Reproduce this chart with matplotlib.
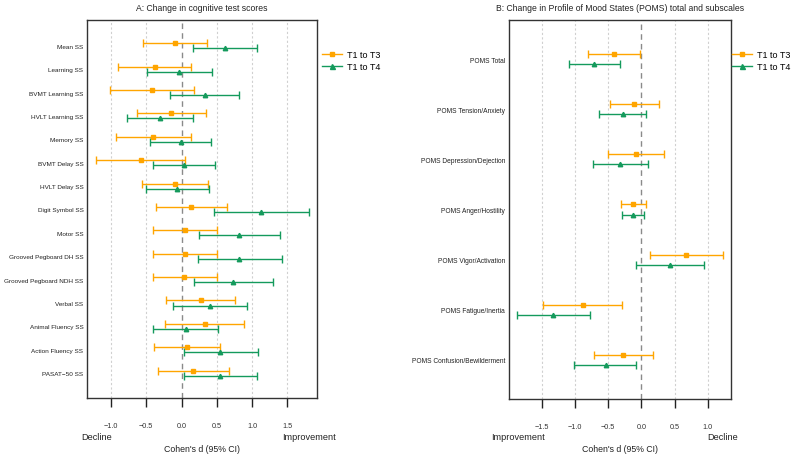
import matplotlib
matplotlib.use("Agg")
import matplotlib.pyplot as plt
from matplotlib.lines import Line2D
import numpy as np

plt.rcParams['font.family'] = ['Liberation Sans', 'DejaVu Sans']

# ---------------- Data: Panel A ----------------
cog_labels = ["Mean SS", "Learning SS", "BVMT Learning SS", "HVLT Learning SS", "Memory SS",
              "BVMT Delay SS", "HVLT Delay SS", "Digit Symbol SS", "Motor SS",
              "Grooved Pegboard DH SS", "Grooved Pegboard NDH SS", "Verbal SS",
              "Animal Fluency SS", "Action Fluency SS", "PASAT\u221250 SS"]
cog_t3_est = [-0.09, -0.38, -0.42, -0.15, -0.40, -0.58, -0.09, 0.14, 0.05, 0.05, 0.04, 0.27, 0.33, 0.08, 0.165]
cog_t3_lo = [-0.54, -0.90, -1.02, -0.63, -0.93, -1.21, -0.56, -0.36, -0.40, -0.40, -0.41, -0.22, -0.23, -0.39, -0.34]
cog_t3_hi = [0.36, 0.14, 0.17, 0.34, 0.13, 0.05, 0.37, 0.65, 0.50, 0.505, 0.50, 0.76, 0.89, 0.55, 0.675]
cog_t4_est = [0.62, -0.03, 0.33, -0.31, -0.01, 0.03, -0.06, 1.13, 0.82, 0.82, 0.73, 0.41, 0.06, 0.55, 0.54]
cog_t4_lo = [0.165, -0.49, -0.16, -0.77, -0.45, -0.41, -0.505, 0.46, 0.25, 0.236, 0.175, -0.12, -0.40, 0.03, 0.03]
cog_t4_hi = [1.07, 0.43, 0.82, 0.165, 0.42, 0.47, 0.39, 1.80, 1.39, 1.42, 1.29, 0.93, 0.52, 1.08, 1.07]
cog_ticks = [-1.0, -0.5, 0.0, 0.5, 1.0, 1.5]

# ---------------- Data: Panel B ----------------
poms_labels = ["POMS Total", "POMS Tension/Anxiety", "POMS Depression/Dejection",
               "POMS Anger/Hostility", "POMS Vigor/Activation", "POMS Fatigue/Inertia",
               "POMS Confusion/Bewilderment"]
poms_t3_est = [-0.42, -0.11, -0.085, -0.12, 0.67, -0.88, -0.27]
poms_t3_lo = [-0.81, -0.48, -0.51, -0.31, 0.125, -1.48, -0.71]
poms_t3_hi = [-0.02, 0.26, 0.34, 0.07, 1.225, -0.29, 0.18]
poms_t4_est = [-0.71, -0.28, -0.32, -0.13, 0.43, -1.33, -0.54]
poms_t4_lo = [-1.09, -0.64, -0.73, -0.30, -0.075, -1.87, -1.01]
poms_t4_hi = [-0.33, 0.075, 0.095, 0.04, 0.94, -0.77, -0.075]
poms_ticks = [-1.5, -1.0, -0.5, 0.0, 0.5, 1.0]

series_names = ["T1 to T3", "T1 to T4"]
ORANGE = "#FFA500"
GREEN = "#149A5C"

W, H = 794, 456
fig = plt.figure(figsize=(W / 100, H / 100), dpi=100)


def fx(px):
    return px / W


def fy(py):
    return 1 - py / H


def panel(rect, labels, t3e, t3l, t3h, t4e, t4l, t4h, ticks, xlim, ylim, off, title,
          left_word, right_word, left_x, right_x, legend_x, ylab_size):
    ax = fig.add_axes(rect)
    n = len(labels)
    y = np.arange(n, 0, -1, dtype=float)
    t3e, t3l, t3h = map(np.asarray, (t3e, t3l, t3h))
    t4e, t4l, t4h = map(np.asarray, (t4e, t4l, t4h))
    for t in ticks:
        if t == 0:
            ax.axvline(t, color="#8a8a8a", lw=1.0, ls=(0, (4, 3)), zorder=1)
        else:
            ax.axvline(t, color="#d0d0d0", lw=0.8, ls=(0, (2, 2)), zorder=1)
    ax.errorbar(t3e, y + off, xerr=[t3e - t3l, t3h - t3e], fmt="s", color=ORANGE,
                ms=2.9, elinewidth=1.0, capsize=3.2, capthick=1.0, zorder=3)
    ax.errorbar(t4e, y - off, xerr=[t4e - t4l, t4h - t4e], fmt="^", color=GREEN,
                ms=3.2, elinewidth=1.0, capsize=3.2, capthick=1.0, zorder=3)
    ax.set_xlim(*xlim)
    ax.set_ylim(*ylim)
    ax.set_yticks(y)
    ax.set_yticklabels(labels, fontsize=ylab_size, color="#222222")
    ax.tick_params(axis="y", length=0, pad=2.6)
    ax.set_xticks(ticks)
    ax.set_xticklabels([("\u2212" if t < 0 else "") + f"{abs(t):.1f}" for t in ticks],
                       fontsize=5.2, color="#333333")
    ax.tick_params(axis="x", length=6.5, width=1.0, color="#222222", pad=11)
    for s in ax.spines.values():
        s.set_color("#333333")
        s.set_linewidth(1.0)
    ax.set_title(title, fontsize=6.2, color="#222222", pad=7)
    cx = (rect[0] + rect[0] + rect[2]) / 2
    fig.text(cx, fy(450), "Cohen's d (95% CI)", ha="center", va="center", fontsize=6.3, color="#222222")
    fig.text(fx(left_x), fy(437.5), left_word, ha="center", va="center", fontsize=6.6, color="#222222")
    fig.text(fx(right_x), fy(437.5), right_word, ha="center", va="center", fontsize=6.6, color="#222222")
    handles = [Line2D([], [], color=ORANGE, marker="s", ms=3.2, lw=1.0),
               Line2D([], [], color=GREEN, marker="^", ms=3.6, lw=1.0)]
    fig.legend(handles, series_names, loc="upper left", bbox_to_anchor=(fx(legend_x), fy(51)),
               frameon=False, fontsize=6.5, handlelength=2.2, handletextpad=0.6,
               labelspacing=0.35, borderaxespad=0, borderpad=0)
    return ax


panel([fx(87), fy(399), fx(317) - fx(87), fy(21) - fy(399)], cog_labels,
      cog_t3_est, cog_t3_lo, cog_t3_hi, cog_t4_est, cog_t4_lo, cog_t4_hi,
      cog_ticks, (-1.34, 1.92), (-0.06, 16.1), 0.11,
      "A: Change in cognitive test scores", "Decline", "Improvement", 96.5, 309, 322, 4.6)

panel([fx(508.7), fy(400), fx(731) - fx(508.7), fy(21) - fy(400)], poms_labels,
      poms_t3_est, poms_t3_lo, poms_t3_hi, poms_t4_est, poms_t4_lo, poms_t4_hi,
      poms_ticks, (-2.0, 1.35), (0.22, 7.78), 0.1,
      "B: Change in Profile of Mood States (POMS) total and subscales",
      "Improvement", "Decline", 517.5, 722.7, 732, 4.8)

fig.savefig("out.png", dpi=100)
